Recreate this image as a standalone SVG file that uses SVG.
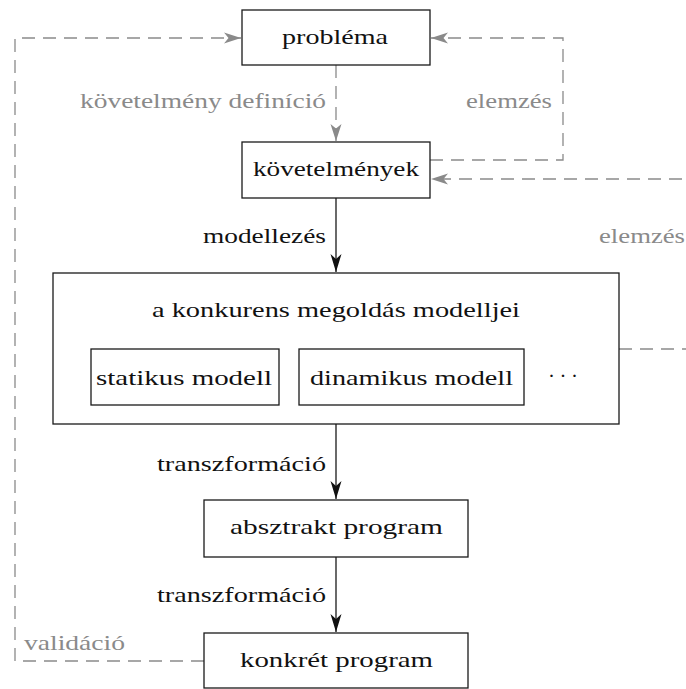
<svg xmlns="http://www.w3.org/2000/svg" width="686" height="689" viewBox="0 0 686 689">
  <style>
    .box { fill: #ffffff; stroke: #1a1a1a; stroke-width: 1.3; }
    .lbl { font-size: 21px; fill: #111111; }
    .grey { fill: #8a8a8a; }
    .solid { fill: none; stroke: #1a1a1a; stroke-width: 1.3; }
    .dash { fill: none; stroke: #8a8a8a; stroke-width: 1.3; stroke-dasharray: 13 8; }
  </style>
  <defs>
    <marker id="ah-black" viewBox="-19 -7 20 14" refX="0" refY="0" markerWidth="20" markerHeight="14" orient="auto" markerUnits="userSpaceOnUse">
      <path d="M0,0 L-18,-5.5 L-13,0 L-18,5.5 Z" fill="#111111"/>
    </marker>
    <marker id="ah-grey" viewBox="-19 -7 20 14" refX="0" refY="0" markerWidth="20" markerHeight="14" orient="auto" markerUnits="userSpaceOnUse">
      <path d="M0,0 L-17,-5.5 L-12.5,0 L-17,5.5 Z" fill="#8a8a8a"/>
    </marker>
  </defs>

  <!-- connectors and their labels -->
  <g id="connectors" font-family="Liberation Serif, serif">
    <path class="dash" d="M336,65 V141" marker-end="url(#ah-grey)"/>
    <path class="dash" d="M430,160 H563 V38 H431" marker-end="url(#ah-grey)"/>
    <path class="dash" d="M619,349 H702 V179 H431" marker-end="url(#ah-grey)"/>
    <path class="dash" d="M204,661 H15 V38 H241" marker-end="url(#ah-grey)"/>
    <path class="solid" d="M336,198 V272" marker-end="url(#ah-black)"/>
    <path class="solid" d="M336,424 V499" marker-end="url(#ah-black)"/>
    <path class="solid" d="M336,557 V632" marker-end="url(#ah-black)"/>

    <text class="lbl grey" x="326" y="108" text-anchor="end" textLength="246" lengthAdjust="spacingAndGlyphs">követelmény definíció</text>
    <text class="lbl grey" x="552" y="108" text-anchor="end" textLength="86" lengthAdjust="spacingAndGlyphs">elemzés</text>
    <text class="lbl" x="326" y="243" text-anchor="end" textLength="123" lengthAdjust="spacingAndGlyphs">modellezés</text>
    <text class="lbl grey" x="599" y="243" textLength="86" lengthAdjust="spacingAndGlyphs">elemzés</text>
    <text class="lbl" x="326" y="471" text-anchor="end" textLength="169" lengthAdjust="spacingAndGlyphs">transzformáció</text>
    <text class="lbl" x="326" y="602" text-anchor="end" textLength="169" lengthAdjust="spacingAndGlyphs">transzformáció</text>
    <text class="lbl grey" x="24" y="650" textLength="101" lengthAdjust="spacingAndGlyphs">validáció</text>
  </g>

  <!-- nodes -->
  <g id="nodes" font-family="Liberation Serif, serif">
  <g id="problema">
    <rect class="box" x="242" y="10" width="188" height="55"/>
    <text class="lbl" x="282" y="44" textLength="106" lengthAdjust="spacingAndGlyphs">probléma</text>
  </g>
  <g id="kovetelmenyek">
    <rect class="box" x="242" y="142" width="188" height="56"/>
    <text class="lbl" x="253" y="176" textLength="166" lengthAdjust="spacingAndGlyphs">követelmények</text>
  </g>
  <g id="modellek">
    <rect class="box" x="53" y="273" width="566" height="151"/>
    <text class="lbl" x="152" y="317" textLength="368" lengthAdjust="spacingAndGlyphs">a konkurens megoldás modelljei</text>
  </g>
  <g id="statikus">
    <rect class="box" x="91" y="349" width="188" height="56"/>
    <text class="lbl" x="96" y="385" textLength="176" lengthAdjust="spacingAndGlyphs">statikus modell</text>
  </g>
  <g id="dinamikus">
    <rect class="box" x="299" y="349" width="225" height="56"/>
    <text class="lbl" x="310" y="385" textLength="203" lengthAdjust="spacingAndGlyphs">dinamikus modell</text>
  </g>
  <g id="tovabbi">
    <text class="lbl" x="548" y="383" textLength="30" lengthAdjust="spacing">···</text>
  </g>
  <g id="absztrakt">
    <rect class="box" x="204" y="500" width="264" height="57"/>
    <text class="lbl" x="230" y="534" textLength="213" lengthAdjust="spacingAndGlyphs">absztrakt program</text>
  </g>
  <g id="konkret">
    <rect class="box" x="204" y="633" width="264" height="55"/>
    <text class="lbl" x="240" y="667" textLength="193" lengthAdjust="spacingAndGlyphs">konkrét program</text>
  </g>
  </g>
</svg>
